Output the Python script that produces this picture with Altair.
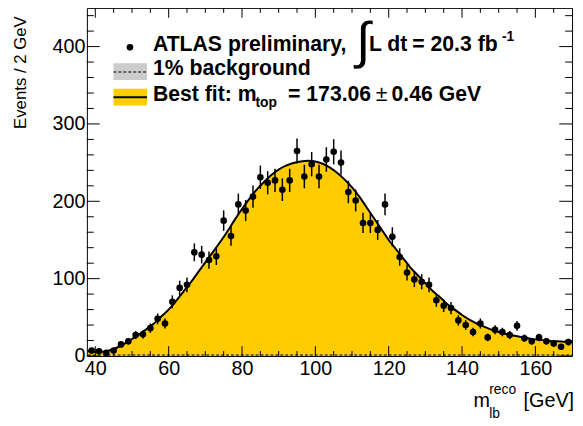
import altair as alt
import pandas as pd
import numpy as np

# ---------------- data ----------------
bin_centers = list(range(39, 171, 2))
events = [7, 6, 4, 7, 15, 19, 27, 28, 36, 48,
          42, 70, 88, 92, 134, 131, 124, 129, 175, 155,
          196, 188, 206, 231, 224, 227, 215, 227, 265, 232,
          248, 232, 254, 264, 250, 212, 201, 172, 172, 163,
          196, 154, 128, 108, 99, 96, 92, 72, 65, 62,
          46, 40, 31, 42, 24, 34, 31, 27, 39, 23,
          19, 24, 19, 16, 12, 18]

fit_x = list(range(38, 172, 2))
fit_y = [6, 5.5, 5.5, 7.5, 11, 16, 22, 28, 35, 42,
         51, 60, 71, 83, 95, 108, 121, 134, 147, 161,
         176, 190, 203, 215, 225, 234, 241, 246, 249.5, 251.5,
         252.5, 251.5, 248.5, 243.5, 236.5, 228, 218, 206, 192, 178,
         164, 150, 138, 126, 114, 104, 94, 84, 76, 67,
         60, 53, 47, 42, 38, 34, 31, 28.5, 26.5, 24.5,
         23, 21.5, 20.5, 19.5, 19, 18.5, 18]

bkg_x = [38, 100, 170]
bkg_y = [1.3, 1.3, 1.3]

x_major = [40, 60, 80, 100, 120, 140, 160]
x_minor = [45, 50, 55, 65, 70, 75, 85, 90, 95, 105, 110, 115,
           125, 130, 135, 145, 150, 155, 165]
y_major = [0, 100, 200, 300, 400]
y_minor = [20, 40, 60, 80, 120, 140, 160, 180, 220, 240, 260, 280,
           320, 340, 360, 380, 420, 440]

# ---------------- layout ----------------
W, H = 492, 353
XD = [37.7, 170]
YD = [0, 450]
FONT = "Liberation Sans"
YELLOW = "#ffcc00"
LF = 21.5  # legend font size

xs = alt.Scale(domain=XD, nice=False, zero=False)
ys = alt.Scale(domain=YD, nice=False, zero=False)
xaxis = alt.Axis(values=x_major, tickSize=0, domain=False, grid=False,
                 labelFontSize=20, labelFont=FONT, labelColor="black",
                 labelPadding=3, title=None, format="d", labelFlush=False)
yaxis = alt.Axis(values=y_major, tickSize=0, domain=False, grid=False,
                 labelFontSize=20, labelFont=FONT, labelColor="black",
                 labelPadding=2, format="d",
                 title="Events / 2 GeV", titleFont=FONT, titleFontSize=17,
                 titleFontWeight="normal", titleColor="black",
                 titleAngle=270, titleAlign="right", titleBaseline="alphabetic",
                 titleAnchor="end", titleX=-62.5, titleY=8)


def X(f):
    return alt.X(f, type="quantitative", scale=xs, axis=xaxis)


def Y(f):
    return alt.Y(f, type="quantitative", scale=ys, axis=yaxis)


data = pd.DataFrame({"x": bin_centers, "n": events})
data["lo"] = data["n"] - np.sqrt(data["n"])
data["hi"] = data["n"] + np.sqrt(data["n"])
fit = pd.DataFrame({"x": fit_x, "y": fit_y})
bkg = pd.DataFrame({"x": bkg_x, "y": bkg_y})

area = alt.Chart(fit).mark_area(color=YELLOW, interpolate="monotone", clip=True).encode(
    x=X("x"), y=Y("y"))
bkg_area = alt.Chart(bkg).mark_area(color="#cccccc", clip=True).encode(x=X("x"), y=Y("y"))
bkg_line = alt.Chart(bkg).mark_line(color="black", strokeWidth=1.2, strokeDash=[3, 2],
                                    clip=True).encode(x=X("x"), y=Y("y"))
line = alt.Chart(fit).mark_line(color="black", strokeWidth=2, interpolate="monotone",
                                clip=True).encode(x=X("x"), y=Y("y"))
err = alt.Chart(data).mark_rule(color="black", strokeWidth=1.5).encode(
    x=X("x"), y=Y("lo"), y2="hi")
pts = alt.Chart(data).mark_circle(color="black", size=45, opacity=1).encode(
    x=X("x"), y=Y("n"))


# inward ticks (ROOT style)
def xticks(vals, length):
    d = pd.DataFrame({"v": vals})
    b = alt.Chart(d).mark_rule(color="black", strokeWidth=1).encode(
        x=X("v"), y=alt.value(H), y2=alt.value(H - length))
    t = alt.Chart(d).mark_rule(color="black", strokeWidth=1).encode(
        x=X("v"), y=alt.value(0), y2=alt.value(length))
    return [b, t]


def yticks(vals, length):
    d = pd.DataFrame({"v": vals})
    l = alt.Chart(d).mark_rule(color="black", strokeWidth=1).encode(
        y=Y("v"), x=alt.value(0), x2=alt.value(length))
    r = alt.Chart(d).mark_rule(color="black", strokeWidth=1).encode(
        y=Y("v"), x=alt.value(W), x2=alt.value(W - length))
    return [l, r]


ticks = xticks(x_major, 10) + xticks(x_minor, 5) + yticks(y_major, 13) + yticks(y_minor, 7)


def txt(s, x, y, size, bold=True, align="left", baseline="alphabetic", font=FONT):
    return alt.Chart(pd.DataFrame({"t": [s]})).mark_text(
        align=align, baseline=baseline, fontSize=size,
        fontWeight="bold" if bold else "normal", font=font, color="black"
    ).encode(text="t:N", x=alt.value(x), y=alt.value(y))


def box(x1, x2, y1, y2, color):
    return alt.Chart(pd.DataFrame({"a": [0]})).mark_rect(color=color).encode(
        x=alt.value(x1), x2=alt.value(x2), y=alt.value(y1), y2=alt.value(y2))


def hline(x1, x2, y, width, dash=None):
    kw = dict(color="black", strokeWidth=width)
    if dash:
        kw["strokeDash"] = dash
    return alt.Chart(pd.DataFrame({"a": [0]})).mark_rule(**kw).encode(
        x=alt.value(x1), x2=alt.value(x2), y=alt.value(y))


legend_dot = alt.Chart(pd.DataFrame({"a": [0]})).mark_circle(
    color="black", size=45, opacity=1).encode(x=alt.value(43.7), y=alt.value(40))

legend = [
    legend_dot,
    txt("ATLAS preliminary,", 67, 44, LF),
    txt("\u222b", 280, 35, 52, bold=False, align="center", baseline="middle"),
    txt("L dt", 286, 44, LF),
    txt("= 20.3 fb", 330, 44, LF),
    txt("-1", 421, 34, 14),
    box(27, 61, 56, 73, "#cccccc"),
    hline(27, 61, 65, 1.2, [3, 2]),
    txt("1% background", 67, 68.3, LF),
    box(27, 61, 82, 99, YELLOW),
    hline(27, 61, 90.5, 2),
    txt("Best fit: m", 67, 94, LF),
    txt("top", 171, 100, 14),
    txt("= 173.06", 204, 94, LF),
    txt("\u00b1", 293, 94, LF, bold=False),
    txt("0.46 GeV", 309, 94, LF),
]

titles = [
    txt("m", 392, 405, 20, bold=False),
    txt("reco", 408, 392, 14, bold=False),
    txt("lb", 408, 416, 14, bold=False),
    txt("[GeV]", 494, 405, 20, bold=False, align="right"),
]

chart = alt.layer(area, bkg_area, bkg_line, line, err, pts, *ticks, *legend, *titles).properties(
    width=W, height=H,
    autosize=alt.AutoSizeParams(type="none"),
    padding={"left": 80, "top": -3, "right": 3, "bottom": 62},
    background="white",
).configure_view(stroke="black", strokeWidth=1)

chart.save("out.html", embed_options={"renderer": "svg", "actions": False})
